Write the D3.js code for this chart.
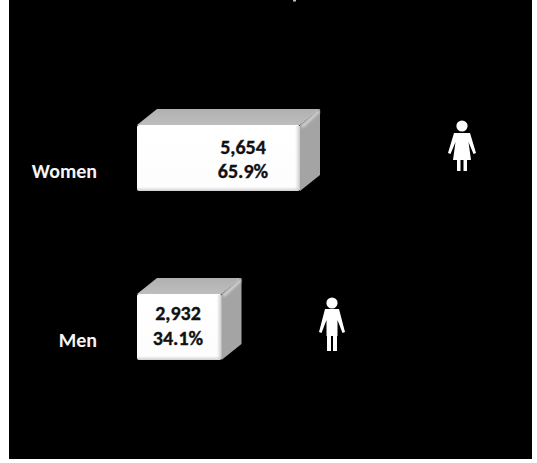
<!DOCTYPE html>
<html>
<head>
<meta charset="utf-8">
<script src="https://cdn.jsdelivr.net/npm/d3@7"></script>
<style>
html, body { margin: 0; padding: 0; background: #fff; }
svg { display: block; }
text { font-family: Carlito, "Liberation Sans", "Open Sans", sans-serif; font-weight: bold; }
</style>
</head>
<body>
<svg id="chart" width="537" height="463"></svg>
<script>
var categories = ["Women", "Men"];
var counts = [5654, 2932];
var shares = ["65.9%", "34.1%"];
var figures = ["woman", "man"];

var svg = d3.select("#chart");
var defs = svg.append("defs");

var top_ = defs.append("linearGradient").attr("id", "topFill")
	.attr("x1", 0).attr("x2", 0).attr("y1", 0).attr("y2", 1);
top_.append("stop").attr("offset", 0).attr("stop-color", "#b0b0b0");
top_.append("stop").attr("offset", 1).attr("stop-color", "#bebebe");

var front = defs.append("linearGradient").attr("id", "frontFill")
	.attr("x1", 0).attr("x2", 0).attr("y1", 0).attr("y2", 1);
front.append("stop").attr("offset", 0).attr("stop-color", "#ffffff");
front.append("stop").attr("offset", 0.94).attr("stop-color", "#fdfdfd");
front.append("stop").attr("offset", 1).attr("stop-color", "#cfcfcf");

var edge = defs.append("linearGradient").attr("id", "edgeFill")
	.attr("x1", 0).attr("x2", 1).attr("y1", 0).attr("y2", 0);
edge.append("stop").attr("offset", 0).attr("stop-color", "#d6d6d6").attr("stop-opacity", 0);
edge.append("stop").attr("offset", 1).attr("stop-color", "#c8c8c8");

defs.append("filter").attr("id", "soft")
	.append("feGaussianBlur").attr("stdDeviation", 0.45);
defs.append("filter").attr("id", "softer")
	.append("feGaussianBlur").attr("stdDeviation", 1.3);

// black plot area, white strip round it
svg.append("rect").attr("x", 9).attr("y", 0).attr("width", 523).attr("height", 459).attr("fill", "#000");

var x = d3.scaleLinear().domain([0, 5654]).range([137, 300]);

var depthX = 20, depthY = 16;
var tops = [125, 294], bottoms = [191, 360];
var labelXs = [243, 178];
var line1 = [29, 26], line2 = [53, 51];

var bars = svg.selectAll("g.bar")
	.data(categories)
	.join("g")
	.attr("class", "bar");

bars.each(function (d, i) {
	var g = d3.select(this);
	var faces = g.append("g").attr("filter", "url(#soft)");
	var x0 = x(0), x1 = x(counts[i]);
	var y0 = tops[i], y1 = bottoms[i];

	faces.append("path")
		.attr("d", d3.line()([[x0, y0], [x0 + depthX, y0 - depthY], [x1 + depthX, y0 - depthY], [x1, y0]]) + "Z")
		.attr("fill", "url(#topFill)");
	faces.append("path")
		.attr("d", d3.line()([[x1, y0], [x1 + depthX, y0 - depthY], [x1 + depthX, y1 - depthY], [x1, y1]]) + "Z")
		.attr("fill", "#a4a4a4");
	// lighter bevel along the top corner of the side face
	faces.append("path")
		.attr("d", d3.line()([[x1 + 2, y0 + 2], [x1 + depthX - 1, y0 - depthY + 2]]))
		.attr("stroke", "#d2d2d2").attr("stroke-width", 3).attr("fill", "none")
		.attr("filter", "url(#softer)");
	faces.append("rect")
		.attr("x", x0).attr("y", y0)
		.attr("width", x1 - x0).attr("height", y1 - y0)
		.attr("rx", 2)
		.attr("fill", "url(#frontFill)");
	faces.append("rect")
		.attr("x", x1 - 5).attr("y", y0 + 1)
		.attr("width", 5).attr("height", y1 - y0 - 2)
		.attr("fill", "url(#edgeFill)");

	g.append("text").attr("x", labelXs[i]).attr("y", y0 + line1[i])
		.attr("text-anchor", "middle").attr("font-size", 20).attr("fill", "#111")
		.attr("stroke", "#111").attr("stroke-width", 0.35)
		.text(d3.format(",")(counts[i]));
	g.append("text").attr("x", labelXs[i]).attr("y", y0 + line2[i])
		.attr("text-anchor", "middle").attr("font-size", 20).attr("fill", "#111")
		.attr("stroke", "#111").attr("stroke-width", 0.35)
		.text(shares[i]);
});

svg.selectAll("text.cat")
	.data(categories)
	.join("text")
	.attr("class", "cat")
	.attr("x", 97)
	.attr("y", (d, i) => i == 0 ? 178 : 347)
	.attr("text-anchor", "end")
	.attr("font-size", 20)
	.attr("fill", "#f4f4f4")
	.text(d => d);

// person pictograms, drawn around their own centre
function person(g, kind) {
	g.append("circle").attr("cx", 0).attr("cy", -21).attr("r", 5.6).attr("fill", "#fff");
	if (kind == "woman") {
		g.append("path").attr("fill", "#fff")
			.attr("d", "M-8,-14 L8,-14 L14,6 L11.5,7 L6.5,-5 L9,13 L5,13 L5,24 L1.5,24 L1.5,13 L-1.5,13 L-1.5,24 L-5,24 L-5,13 L-9,13 L-6.5,-5 L-11.5,7 L-14,6 Z");
	} else {
		g.append("path").attr("fill", "#fff")
			.attr("d", "M-7,-15 L7,-15 L13,8 L10.5,9 L5.5,-4 L5.5,12 L5,12 L5,27 L1,27 L1,12 L-1,12 L-1,27 L-5,27 L-5,12 L-5.5,12 L-5.5,-4 L-10.5,9 L-13,8 Z");
	}
}
svg.selectAll("g.person")
	.data(figures)
	.join("g")
	.attr("class", "person")
	.attr("filter", "url(#soft)")
	.attr("transform", (d, i) => i == 0 ? "translate(462,147)" : "translate(332,324)")
	.each(function (d) { person(d3.select(this), d); });

// speck left at the top edge of the crop
svg.append("rect").attr("x", 293).attr("y", 0).attr("width", 3).attr("height", 1.5).attr("fill", "#bbb");
</script>
</body>
</html>
